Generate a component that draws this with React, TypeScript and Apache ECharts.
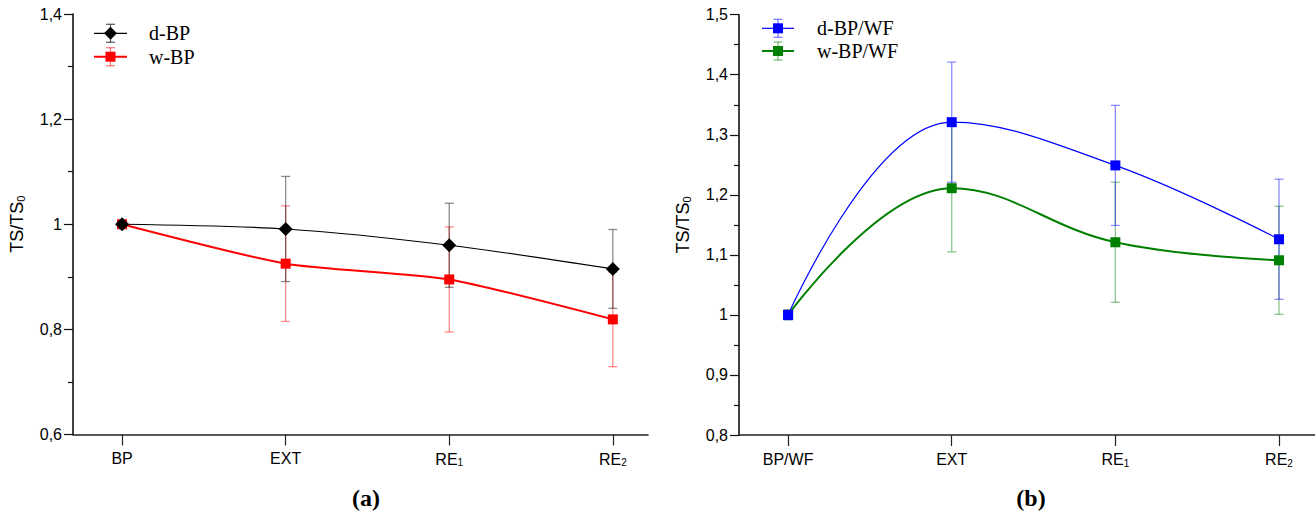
import React, { useEffect, useRef } from "react";
import * as echarts from "echarts";

// ---- data ----
const categoriesA = ["BP", "EXT", "RE1", "RE2"];
const categoriesB = ["BP/WF", "EXT", "RE1", "RE2"];

const dBP = [1.0, 0.991, 0.96, 0.915];
const dBPErr = [0.005, 0.1, 0.08, 0.075];
const wBP = [1.0, 0.925, 0.895, 0.819];
const wBPErr = [0.005, 0.11, 0.1, 0.09];

const dWF = [1.0, 1.321, 1.249, 1.126];
const dWFErr = [0.008, 0.1, 0.1, 0.1];
const wWF = [1.0, 1.211, 1.121, 1.091];
const wWFErr = [0.008, 0.106, 0.1, 0.09];

const yTicksA = { min: 0.6, max: 1.4, interval: 0.2 };
const yTicksB = { min: 0.8, max: 1.5, interval: 0.1 };

const SANS = "Liberation Sans";
const SERIF = "Liberation Serif";

function catFormatter(cats: string[]) {
  return (v: number) => {
    const name = cats[Math.round(v)] ?? "";
    const m = name.match(/^(.*?)(\d)$/);
    return m ? `{n|${m[1]}}{s|${m[2]}}` : `{n|${name}}`;
  };
}

function fmtY(v: number) {
  return String(+v.toFixed(2)).replace(".", ",");
}

function xAxis(idx: number, cats: string[], max: number) {
  return {
    type: "value",
    gridIndex: idx,
    min: -0.3,
    max,
    splitLine: { show: false },
    axisLine: { show: true, onZero: false, lineStyle: { color: "#222", width: 1.6 } },
    axisTick: {
      show: true,
      customValues: cats.map((_, i) => i),
      length: 11,
      lineStyle: { color: "#222", width: 1.2 },
    },
    axisLabel: {
      customValues: cats.map((_, i) => i),
      formatter: catFormatter(cats),
      margin: 16,
      rich: {
        n: { fontFamily: SANS, fontSize: 16, color: "#000" },
        s: { fontFamily: SANS, fontSize: 10, color: "#000", padding: [7, 0, 0, 0] },
      },
    },
  };
}

function yAxis(idx: number, t: { min: number; max: number; interval: number }) {
  return {
    type: "value",
    gridIndex: idx,
    min: t.min,
    max: t.max,
    interval: t.interval,
    splitLine: { show: false },
    axisLine: { show: true, onZero: false, lineStyle: { color: "#111", width: 1.6 } },
    axisTick: { show: true, length: 9, lineStyle: { color: "#111", width: 1.2 } },
    minorTick: { show: true, splitNumber: 2, length: 5, lineStyle: { color: "#111", width: 1.2 } },
    axisLabel: {
      formatter: fmtY,
      margin: 11,
      fontFamily: SANS,
      fontSize: 16,
      color: "#000",
    },
    name: "{t|TS/TS}{s|0}",
    nameLocation: "middle",
    nameGap: 47,
    nameRotate: 90,
    nameTextStyle: {
      rich: {
        t: { fontFamily: SANS, fontSize: 18, color: "#000" },
        s: { fontFamily: SANS, fontSize: 11, color: "#000", padding: [8, 0, 0, 0] },
      },
    },
  };
}

function errSeries(idx: number, vals: number[], errs: number[], color: string, z: number) {
  return {
    type: "custom",
    xAxisIndex: idx,
    yAxisIndex: idx,
    z,
    silent: true,
    data: vals.map((v, i) => [i, v - errs[i], v + errs[i]]),
    encode: { x: 0, y: [1, 2] },
    renderItem: (_p: any, api: any) => {
      const x = api.value(0);
      const lo = api.coord([x, api.value(1)]);
      const hi = api.coord([x, api.value(2)]);
      const w = 4.5;
      const style = { stroke: color, lineWidth: 1.3 };
      return {
        type: "group",
        children: [
          { type: "line", shape: { x1: lo[0], y1: lo[1], x2: hi[0], y2: hi[1] }, style },
          { type: "line", shape: { x1: lo[0] - w, y1: lo[1], x2: lo[0] + w, y2: lo[1] }, style },
          { type: "line", shape: { x1: hi[0] - w, y1: hi[1], x2: hi[0] + w, y2: hi[1] }, style },
        ],
      };
    },
  };
}

function lineSeries(
  idx: number,
  name: string,
  vals: number[],
  color: string,
  symbol: string,
  size: number,
  width: number,
  z: number,
  smooth: number
) {
  return {
    type: "line",
    name,
    xAxisIndex: idx,
    yAxisIndex: idx,
    z,
    data: vals.map((v, i) => [i, v]),
    smooth,
    symbol,
    symbolSize: size,
    showSymbol: true,
    itemStyle: { color, borderWidth: 0 },
    lineStyle: { color, width },
  };
}

function legendItem(
  x0: number,
  x1: number,
  y: number,
  tx: number,
  label: string,
  color: string,
  errColor: string,
  marker: "diamond" | "square",
  size: number,
  lw: number
) {
  const cx = (x0 + x1) / 2;
  const es = { stroke: errColor, lineWidth: 1.3 };
  const els: any[] = [
    { type: "line", shape: { x1: x0, y1: y, x2: x1, y2: y }, style: { stroke: color, lineWidth: lw } },
    { type: "line", shape: { x1: cx, y1: y - 9, x2: cx, y2: y + 9 }, style: es },
    { type: "line", shape: { x1: cx - 4.5, y1: y - 9, x2: cx + 4.5, y2: y - 9 }, style: es },
    { type: "line", shape: { x1: cx - 4.5, y1: y + 9, x2: cx + 4.5, y2: y + 9 }, style: es },
  ];
  if (marker === "diamond") {
    const h = size / 2;
    els.push({
      type: "polygon",
      shape: { points: [[cx, y - h], [cx + h, y], [cx, y + h], [cx - h, y]] },
      style: { fill: color },
    });
  } else {
    els.push({
      type: "rect",
      shape: { x: cx - size / 2, y: y - size / 2, width: size, height: size },
      style: { fill: color },
    });
  }
  els.push({
    type: "text",
    x: tx,
    y,
    style: {
      text: label,
      fontFamily: SERIF,
      fontSize: 20,
      fill: "#000",
      textVerticalAlign: "middle",
      verticalAlign: "middle",
    },
  });
  return els;
}

function panelLabel(text: string, x: number) {
  return {
    type: "text",
    x,
    y: 498,
    style: {
      text,
      fontFamily: SERIF,
      fontWeight: "bold",
      fontSize: 24,
      fill: "#000",
      textAlign: "center",
      textVerticalAlign: "middle",
      align: "center",
      verticalAlign: "middle",
    },
  };
}

export default function App() {
  const ref = useRef<HTMLDivElement>(null);
  useEffect(() => {
    if (!ref.current) return;
    const chart = echarts.init(ref.current, undefined, { renderer: "svg" });
    const option: any = {
      animation: false,
      backgroundColor: "#fff",
      grid: [
        { left: 73, top: 14, width: 575, height: 420.5 },
        { left: 739, top: 14.7, width: 576, height: 420.3 },
      ],
      xAxis: [xAxis(0, categoriesA, 3.215), xAxis(1, categoriesB, 3.22)],
      yAxis: [yAxis(0, yTicksA), yAxis(1, yTicksB)],
      series: [
        errSeries(0, wBP, wBPErr, "rgba(255,0,0,0.45)", 1),
        errSeries(0, dBP, dBPErr, "rgba(0,0,0,0.45)", 1),
        lineSeries(0, "w-BP", wBP, "#ff0000", "rect", 10, 2, 2, 0.2),
        lineSeries(0, "d-BP", dBP, "#000000", "diamond", 14, 1.2, 3, 0.3),
        errSeries(1, wWF, wWFErr, "rgba(0,128,0,0.45)", 1),
        errSeries(1, dWF, dWFErr, "rgba(0,0,255,0.45)", 1),
        lineSeries(1, "w-BP/WF", wWF, "#008000", "rect", 10, 2, 2, 0.4),
        lineSeries(1, "d-BP/WF", dWF, "#0000ff", "rect", 10, 1.2, 3, 0.4),
      ],
      graphic: [
        ...legendItem(94, 127, 33.3, 149, "d-BP", "#000", "rgba(0,0,0,0.6)", "diamond", 13, 1.2),
        ...legendItem(94, 127, 56.7, 149, "w-BP", "#ff0000", "rgba(255,0,0,0.5)", "square", 10, 2),
        ...legendItem(762, 794, 28.3, 817, "d-BP/WF", "#0000ff", "rgba(0,0,255,0.5)", "square", 10, 1.2),
        ...legendItem(762, 794, 51, 817, "w-BP/WF", "#008000", "rgba(0,128,0,0.5)", "square", 10, 2),
        panelLabel("(a)", 366),
        panelLabel("(b)", 1031),
      ],
    };
    chart.setOption(option);
    return () => chart.dispose();
  }, []);
  return (
    <div
      ref={ref}
      style={{ position: "absolute", left: 0, top: 0, width: 1315, height: 516 }}
    />
  );
}
